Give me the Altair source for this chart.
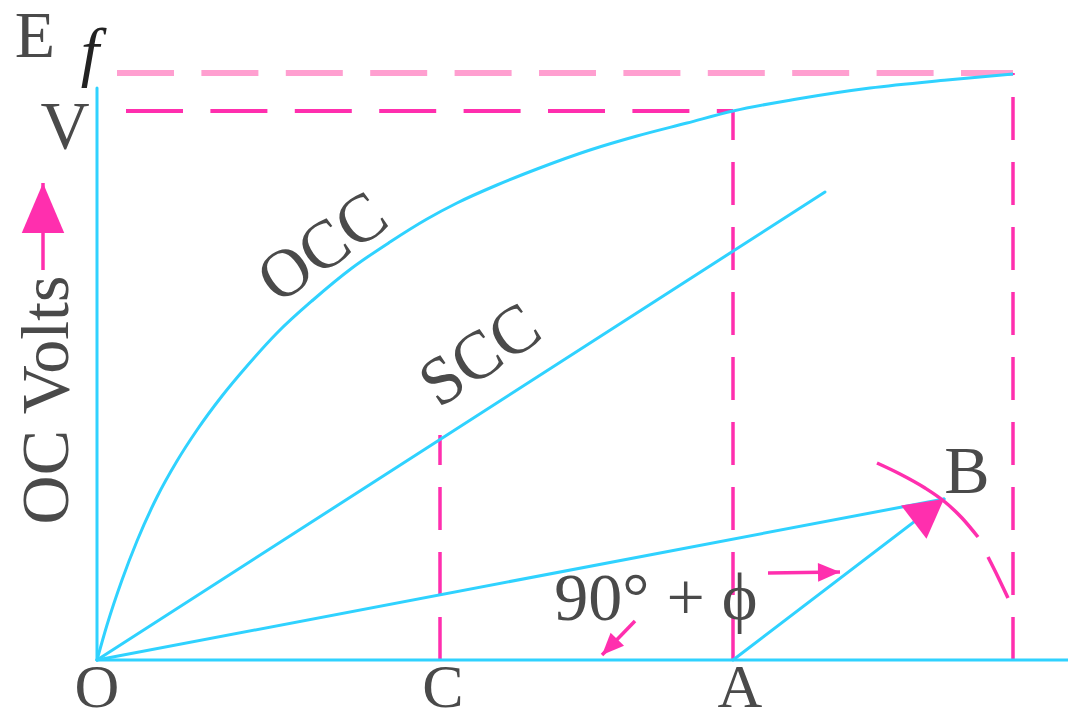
import math
import altair as alt
import pandas as pd

# ---------------- diagram data (units: origin O at (0,0)) ----------------
occ_x = [0, 10, 25, 40, 60, 80, 100, 125, 150, 180, 216, 255, 293, 330, 360, 400, 440, 493,
         540, 590, 636, 700, 773, 850, 916]
occ_y = [0, 35, 80, 119, 163, 199, 230, 264, 294, 327, 360, 392, 418, 441, 457, 475, 491, 510,
         524, 537, 549, 561, 572, 580, 586]

# solid cyan segments: x-axis, y-axis, SCC, OB, AB
seg_x = [0, 0, 0, 0, 636]
seg_y = [0, 0, 0, 0, 0]
seg_x2 = [975, 0, 728, 847, 847]
seg_y2 = [0, 572, 468, 161, 161]

# dashed magenta lines (vertical ones drawn from the bottom up)
vdash_x = [343, 636, 916]
vdash_y = [0, 0, 0]
vdash_y2 = [225, 549, 587]
hdash_x = [29]
hdash_x2 = [636]
hdash_y = [549]
top_x = [20]
top_x2 = [916]
top_y = [587]

# arc near B (two pieces)
arc_id = [1, 1, 1, 1, 1, 1, 2, 2, 2]
arc_x = [780, 803, 828, 848, 865, 881, 891, 901, 911]
arc_y = [197, 186, 172, 158, 142, 123, 103, 83, 62]

# small arrows: tail and tip
arr_tail_x = [671, 538, -54]
arr_tail_y = [87, 39, 390]
arr_tip_x = [743, 505, -54]
arr_tip_y = [88, 5, 477]
arr_len = [22, 22, 50]

# main arrowhead at B, direction from A
A = (636, 0)
B = (847, 161)
B_len = 38

# labels
lab_text = ["E", "V", "O", "C", "A", "B", "90° + ϕ", "OCC", "SCC", "OC Volts"]
lab_x = [-62, -32, 0, 346, 643, 870, 559, 238, 395, -29]
lab_y = [603, 512, -47, -47, -47, 167, 40, 395, 287, 260]
lab_angle = [0, 0, 0, 0, 0, 0, 0, 325, 326, 270]
lab_size = [66, 68, 62, 62, 62, 68, 68, 68, 68, 68]
f_text = ["f"]
f_x = [-7]
f_y = [586]

# ---------------- styling ----------------
CYAN = "#2fd2ff"
MAG = "#ff2fae"
PINK = "#ff9fd0"
TXT = "#4a4a4a"
FONT = "Liberation Serif"

X = alt.Scale(domain=[-89, 971], nice=False, zero=False)
Y = alt.Scale(domain=[-49, 652], nice=False, zero=False)


def xe(f, **kw):
    return alt.X(f, scale=X, axis=None, **kw)


def ye(f, **kw):
    return alt.Y(f, scale=Y, axis=None, **kw)


seg_df = pd.DataFrame({"x": seg_x, "y": seg_y, "x2": seg_x2, "y2": seg_y2})
segs = alt.Chart(seg_df).mark_rule(color=CYAN, strokeWidth=3, strokeCap="round").encode(
    x=xe("x:Q"), y=ye("y:Q"), x2="x2:Q", y2="y2:Q")

occ_df = pd.DataFrame({"x": occ_x, "y": occ_y})
occ = alt.Chart(occ_df).mark_line(color=CYAN, strokeWidth=3, interpolate="monotone").encode(
    x=xe("x:Q"), y=ye("y:Q"))

vd_df = pd.DataFrame({"x": vdash_x, "y": vdash_y, "y2": vdash_y2})
vdash = alt.Chart(vd_df).mark_rule(color=MAG, strokeWidth=3.5, strokeDash=[43, 22]).encode(
    x=xe("x:Q"), y=ye("y:Q"), y2="y2:Q")

hd_df = pd.DataFrame({"x": hdash_x, "x2": hdash_x2, "y": hdash_y})
hdash = alt.Chart(hd_df).mark_rule(color=MAG, strokeWidth=4, strokeDash=[57, 27.4]).encode(
    x=xe("x:Q"), x2="x2:Q", y=ye("y:Q"))

tp_df = pd.DataFrame({"x": top_x, "x2": top_x2, "y": top_y})
topd = alt.Chart(tp_df).mark_rule(color=PINK, strokeWidth=6, strokeDash=[57, 27.4]).encode(
    x=xe("x:Q"), x2="x2:Q", y=ye("y:Q"))

arc_df = pd.DataFrame({"id": arc_id, "x": arc_x, "y": arc_y, "o": list(range(len(arc_x)))})
arc = alt.Chart(arc_df).mark_line(color=MAG, strokeWidth=3.5, interpolate="monotone").encode(
    x=xe("x:Q"), y=ye("y:Q"), detail="id:N", order="o:Q")

# arrow shafts
sh_df = pd.DataFrame({"x": arr_tail_x, "y": arr_tail_y, "x2": arr_tip_x, "y2": arr_tip_y})
shafts = alt.Chart(sh_df).mark_rule(color=MAG, strokeWidth=3.5).encode(
    x=xe("x:Q"), y=ye("y:Q"), x2="x2:Q", y2="y2:Q")


def head_rows(tips_x, tips_y, dirs, lens):
    rows = []
    for tx, ty, (dx, dy), L in zip(tips_x, tips_y, dirs, lens):
        n = math.hypot(dx, dy)
        ux, uy = dx / n, dy / n
        r = L / 2
        ang = math.degrees(math.atan2(dx, dy)) % 360
        rows.append({"x": tx - r * ux, "y": ty - r * uy, "angle": ang, "size": L * L})
    return pd.DataFrame(rows)


small_dirs = [(tx - sx, ty - sy) for sx, sy, tx, ty in zip(arr_tail_x, arr_tail_y, arr_tip_x, arr_tip_y)]
sm_df = head_rows(arr_tip_x, arr_tip_y, small_dirs, arr_len)
small_heads = alt.Chart(sm_df).mark_point(
    shape="M0,-1L-0.85,1L0.85,1Z", filled=True, color=MAG, opacity=1, strokeWidth=0).encode(
    x=xe("x:Q"), y=ye("y:Q"),
    angle=alt.Angle("angle:Q", scale=None), size=alt.Size("size:Q", scale=None))

b_df = head_rows([B[0]], [B[1]], [(B[0] - A[0], B[1] - A[1])], [B_len])
b_head = alt.Chart(b_df).mark_point(
    shape="M0,-1L-1.1,1L1.1,1Z", filled=True, color=MAG, opacity=1, strokeWidth=0).encode(
    x=xe("x:Q"), y=ye("y:Q"),
    angle=alt.Angle("angle:Q", scale=None), size=alt.Size("size:Q", scale=None))

lab_df = pd.DataFrame({"t": lab_text, "x": lab_x, "y": lab_y, "a": lab_angle, "s": lab_size})
labels = alt.Chart(lab_df).mark_text(
    align="center", baseline="alphabetic", font=FONT, color=TXT).encode(
    x=xe("x:Q"), y=ye("y:Q"), text="t:N",
    angle=alt.Angle("a:Q", scale=None), size=alt.Size("s:Q", scale=None))

f_df = pd.DataFrame({"t": f_text, "x": f_x, "y": f_y})
flab = alt.Chart(f_df).mark_text(
    align="center", baseline="alphabetic", font=FONT, fontStyle="italic",
    fontSize=66, color="#222222").encode(x=xe("x:Q"), y=ye("y:Q"), text="t:N")

chart = alt.layer(
    topd, hdash, vdash, occ, segs, arc, shafts, small_heads, b_head, labels, flab
).properties(
    width=1060, height=701, padding=0,
    autosize=alt.AutoSizeParams(type="none"),
    background="white",
).configure_view(stroke=None)

chart.save("out.html", embed_options={"renderer": "svg", "actions": False})
